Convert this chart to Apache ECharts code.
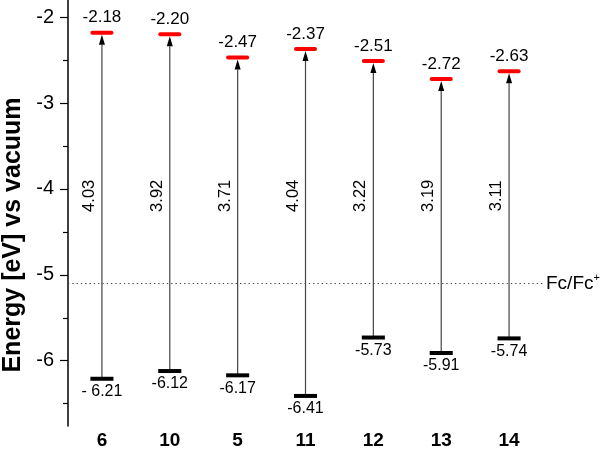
<!DOCTYPE html>
<html><head><meta charset="utf-8">
<script src="https://cdn.jsdelivr.net/npm/echarts@6/dist/echarts.min.js"></script>
<style>html,body{margin:0;padding:0;background:#fff}#c{width:605px;height:450px}</style>
</head><body><div id="c"></div>
<script>
const categories = ['6','10','5','11','12','13','14'];
const lumo = [-2.18,-2.20,-2.47,-2.37,-2.51,-2.72,-2.63];
const homo = [-6.21,-6.12,-6.17,-6.41,-5.73,-5.91,-5.74];
const gapLabels = ['4.03','3.92','3.71','4.04','3.22','3.19','3.11'];
const lumoLabels = ['-2.18','-2.20','-2.47','-2.37','-2.51','-2.72','-2.63'];
const homoLabels = ['- 6.21','-6.12','-6.17','-6.41','-5.73','-5.91','-5.74'];
const gapLabelLevel = -4.08;
const fcLevel = -5.1;
const yMajorTicks = [-6,-5,-4,-3,-2];
const yMinorTicks = [-6.5,-5.5,-4.5,-3.5,-2.5];
const yMin = -6.76, yMax = -1.8;

const font = '"Liberation Sans", Arial, sans-serif';
const data = categories.map((c,i)=>[i, lumo[i], homo[i]]);

function txt(x, y, text, size, extra){
  return Object.assign({type:'text', x:x, y:y, style:{text:text, fill:'#000', fontSize:size, fontFamily:font, align:'center', verticalAlign:'middle'}}, extra||{});
}

function renderItem(params, api){
  const i = params.dataIndex;
  const top = api.coord([api.value(0), api.value(1)]);
  const bot = api.coord([api.value(0), api.value(2)]);
  const band = api.size([1,0])[0];
  const barW = band*0.34;
  const barH = 4;
  const x = top[0];
  const headH = 10, headW = 6;
  const tipY = top[1] + barH/2;
  const lbl = api.coord([api.value(0), gapLabelLevel]);
  return {type:'group', children:[
    {type:'line', shape:{x1:x,y1:bot[1],x2:x,y2:tipY+headH}, style:{stroke:'#444', lineWidth:1.2}},
    {type:'polygon', shape:{points:[[x,tipY],[x-headW/2,tipY+headH],[x+headW/2,tipY+headH]]}, style:{fill:'#000'}},
    {type:'rect', shape:{x:x-barW/2, y:top[1]-barH/2, width:barW, height:barH, r:2}, style:{fill:'#ff0000'}},
    {type:'rect', shape:{x:x-barW/2, y:bot[1]-barH/2, width:barW, height:barH}, style:{fill:'#000'}},
    txt(x, top[1]-15, lumoLabels[i], 17),
    txt(x, bot[1]+13, homoLabels[i], 16),
    txt(lbl[0]-12.5, lbl[1], gapLabels[i], 16.5, {rotation:Math.PI/2})
  ]};
}

const chart = echarts.init(document.getElementById('c'), null, {renderer:'canvas'});
chart.setOption({
  animation:false,
  backgroundColor:'#fff',
  textStyle:{fontFamily:font},
  grid:{left:68, right:62, top:0, bottom:24, outerBoundsMode:'none'},
  xAxis:{type:'category', data:categories, axisLine:{show:false}, axisTick:{show:false},
    axisLabel:{color:'#000', fontSize:19, fontWeight:'bold', fontFamily:font, margin:5}},
  yAxis:[{
    type:'value', min:yMin, max:yMax, position:'left',
    name:'Energy [eV] vs vacuum', nameLocation:'middle', nameGap:40, nameRotate:90,
    nameTextStyle:{color:'#000', fontSize:25, fontWeight:'bold', fontFamily:font, padding:[0,44,0,0]},
    axisLine:{show:true, lineStyle:{color:'#000', width:1.5}},
    axisTick:{show:true, length:8, customValues:yMajorTicks, lineStyle:{color:'#000', width:1.2}},
    axisLabel:{customValues:yMajorTicks, color:'#000', fontSize:20, fontFamily:font, margin:14},
    splitLine:{show:false}
  },{
    type:'value', min:yMin, max:yMax, position:'left',
    axisLine:{show:false},
    axisTick:{show:true, length:5, customValues:yMinorTicks, lineStyle:{color:'#000', width:1.2}},
    axisLabel:{show:false},
    splitLine:{show:false}
  }],
  series:[{
    type:'custom', renderItem:renderItem, data:data, encode:{x:0, y:[1,2]},
    markLine:{
      silent:true, symbol:'none',
      lineStyle:{type:[1.3,3], color:'#444', width:1},
      label:{position:'end', distance:3, color:'#000', fontSize:19, fontFamily:font,
        formatter:'Fc/Fc{s|+}', rich:{s:{fontSize:11, verticalAlign:'top', padding:[0,0,10,0], color:'#000'}}},
      data:[{yAxis:fcLevel}]
    }
  }]
});
</script></body></html>
